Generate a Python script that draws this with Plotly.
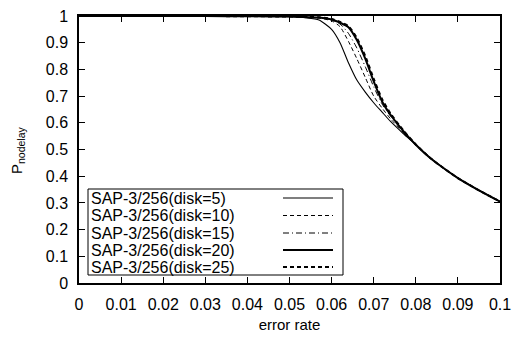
import plotly.graph_objects as go

error_rate = [0, 0.01, 0.02, 0.03, 0.04, 0.05, 0.054, 0.057, 0.06, 0.062, 0.064, 0.066,
              0.068, 0.07, 0.072, 0.074, 0.077, 0.08, 0.083, 0.086, 0.09, 0.095, 0.1]

disk5 = [1, 1, 1, 1, 0.999, 0.997, 0.993, 0.985, 0.95, 0.90, 0.825, 0.76,
         0.715, 0.675, 0.64, 0.605, 0.56, 0.518, 0.474, 0.437, 0.393, 0.347, 0.305]
disk10 = [1, 1, 1, 1, 0.999, 0.998, 0.996, 0.992, 0.982, 0.96, 0.905, 0.84,
          0.77, 0.70, 0.655, 0.615, 0.565, 0.518, 0.474, 0.437, 0.393, 0.347, 0.305]
disk15 = [1, 1, 1, 1, 0.999, 0.998, 0.996, 0.993, 0.985, 0.97, 0.935, 0.88,
          0.81, 0.735, 0.67, 0.625, 0.567, 0.518, 0.474, 0.437, 0.393, 0.347, 0.305]
disk20 = [1, 1, 1, 1, 0.999, 0.998, 0.996, 0.994, 0.987, 0.975, 0.958, 0.91,
          0.84, 0.755, 0.68, 0.63, 0.57, 0.518, 0.474, 0.437, 0.393, 0.347, 0.305]
disk25 = [1, 1, 1, 1, 0.999, 0.998, 0.997, 0.995, 0.989, 0.978, 0.962, 0.918,
          0.85, 0.765, 0.688, 0.635, 0.572, 0.519, 0.474, 0.437, 0.393, 0.347, 0.305]

series_names = ["SAP-3/256(disk=5)", "SAP-3/256(disk=10)", "SAP-3/256(disk=15)",
                "SAP-3/256(disk=20)", "SAP-3/256(disk=25)"]
series_values = [disk5, disk10, disk15, disk20, disk25]
styles = [(1.1, "solid"), (1, "4px,3px"), (1, "6px,3px,1px,3px"), (2, "solid"), (2, "4px,3px")]

x_ticks = [0, 0.01, 0.02, 0.03, 0.04, 0.05, 0.06, 0.07, 0.08, 0.09, 0.1]
x_tick_labels = ["0", "0.01", "0.02", "0.03", "0.04", "0.05", "0.06", "0.07", "0.08", "0.09", "0.1"]
y_ticks = [0, 0.1, 0.2, 0.3, 0.4, 0.5, 0.6, 0.7, 0.8, 0.9, 1]
y_tick_labels = ["0", "0.1", "0.2", "0.3", "0.4", "0.5", "0.6", "0.7", "0.8", "0.9", "1"]

FONT = "Liberation Sans, Arial, sans-serif"
fig = go.Figure()
for name, vals, (w, d) in zip(series_names, series_values, styles):
    fig.add_trace(go.Scatter(x=error_rate, y=vals, mode="lines", name=name,
                             line=dict(color="black", width=w, dash=d, shape="spline", smoothing=0.6),
                             showlegend=False, hoverinfo="skip"))

W, H = 512, 338
L, R, T, B = 79, 12, 16, 55
pw, ph = W - L - R, H - T - B

def px(x):
    return (x - L) / pw

def py(y):
    return (H - B - y) / ph

shapes = []
annotations = []
# legend box
shapes.append(dict(type="rect", xref="paper", yref="paper", x0=px(88), x1=px(343),
                   y0=py(275), y1=py(189), line=dict(color="black", width=1), fillcolor="white"))
row_y = [198, 215.5, 233, 250, 267]
for name, (w, d), ry in zip(series_names, styles, row_y):
    annotations.append(dict(xref="paper", yref="paper", x=px(89), y=py(ry), text=name,
                            showarrow=False, xanchor="left", yanchor="middle",
                            font=dict(family=FONT, size=16, color="black")))
    shapes.append(dict(type="line", xref="paper", yref="paper", x0=px(283), x1=px(333),
                       y0=py(ry), y1=py(ry), line=dict(color="black", width=w, dash=d)))

annotations.append(dict(xref="paper", yref="paper", x=px(17), y=py(150),
                        text="P<sub>nodelay</sub>", showarrow=False, textangle=-90,
                        xanchor="center", yanchor="middle",
                        font=dict(family=FONT, size=15, color="black")))

axis_common = dict(showgrid=False, zeroline=False, showline=True, linecolor="black", linewidth=1.5,
                   mirror="ticks", ticks="inside", ticklen=6, tickcolor="black", tickwidth=1,
                   automargin=False,
                   tickfont=dict(family=FONT, size=16, color="black"))

fig.update_layout(
    width=W, height=H, margin=dict(l=L, r=R, t=T, b=B),
    paper_bgcolor="white", plot_bgcolor="white",
    xaxis=dict(range=[0, 0.1], tickvals=x_ticks, ticktext=x_tick_labels,
               title=dict(text="error rate", font=dict(family=FONT, size=15, color="black"), standoff=8),
               ticklabelstandoff=6, **axis_common),
    yaxis=dict(range=[0, 1], tickvals=y_ticks, ticktext=y_tick_labels,
               ticklabelstandoff=6, **axis_common),
    shapes=shapes, annotations=annotations,
)
fig.write_html("out.html", config={"displayModeBar": False},
               post_script="document.body.style.margin='0';")
